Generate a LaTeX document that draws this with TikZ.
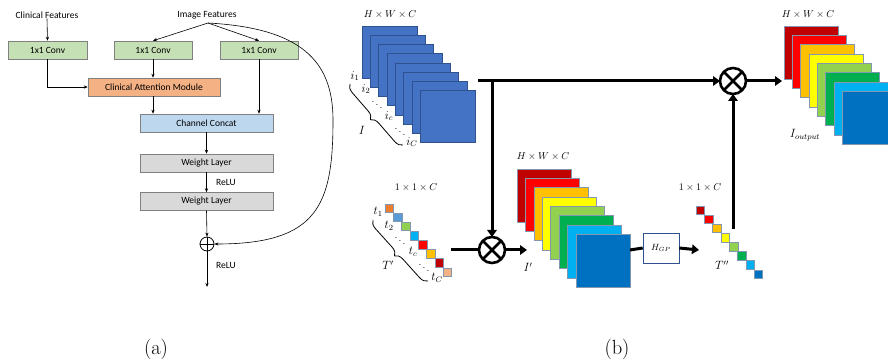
\documentclass[tikz,border=0pt]{standalone}
\usepackage{fontspec}
\newfontfamily\carl{Carlito}
\usetikzlibrary{arrows.meta,decorations.pathreplacing,calc}
\definecolor{gbox}{HTML}{C5E0B4}
\definecolor{obox}{HTML}{F4B183}
\definecolor{bbox}{HTML}{BDD7EE}
\definecolor{wbox}{HTML}{D9D9D9}
\definecolor{sqblue}{HTML}{4472C4}
\definecolor{sqblueb}{HTML}{2F528F}
\definecolor{kA}{HTML}{C00000}
\definecolor{kB}{HTML}{FF0000}
\definecolor{kC}{HTML}{FFC000}
\definecolor{kD}{HTML}{FFFF00}
\definecolor{kE}{HTML}{92D050}
\definecolor{kF}{HTML}{00B050}
\definecolor{kG}{HTML}{00B0F0}
\definecolor{kH}{HTML}{0070C0}
\definecolor{tA}{HTML}{ED7D31}
\definecolor{tB}{HTML}{5B9BD5}
\definecolor{tC}{HTML}{92D050}
\definecolor{tD}{HTML}{00B0F0}
\definecolor{tE}{HTML}{FF0000}
\definecolor{tF}{HTML}{FFC000}
\definecolor{tG}{HTML}{C00000}
\definecolor{tH}{HTML}{F4B183}
\definecolor{sqedge}{HTML}{8497B0}
\begin{document}
\begin{tikzpicture}[x=1pt,y=-1pt,
  lbl/.style={font=\carl\fontsize{9.5}{11}\selectfont, inner sep=0pt},
  box/.style={draw=black!50, line width=0.5pt, inner sep=0pt, minimum height=18pt, font=\carl\fontsize{9.5}{11}\selectfont},
  thinarr/.style={line width=0.6pt, -{Stealth[length=4pt,width=3.2pt]}},
  thickln/.style={line width=3pt},
  thickarr/.style={line width=3pt, -{Triangle[length=7pt,width=9.5pt]}},
  otimes/.style={circle, draw, line width=2.6pt, minimum size=26pt, inner sep=0pt, outer sep=0pt},
  mlbl/.style={inner sep=0pt, font=\fontsize{10}{12}\selectfont},
  ilbl/.style={inner sep=0pt, font=\fontsize{12}{14}\selectfont},
  caplbl/.style={inner sep=0pt, font=\fontsize{20.5}{24}\selectfont}
]
\useasboundingbox (0,0) rectangle (888,363);

% ---------- (a) ----------
\node[lbl] (cf) at (47,15) {Clinical Features};
\node[lbl] (imf) at (207,15) {Image Features};
\coordinate (ifs) at (208,23);
\node[box, fill=gbox, minimum width=79pt] (c1) at (47.5,50) {1x1 Conv};
\node[box, fill=gbox, minimum width=78pt] (c2) at (153,50) {1x1 Conv};
\node[box, fill=gbox, minimum width=78pt] (c3) at (259,50) {1x1 Conv};
\node[box, fill=obox, minimum width=132pt] (cam) at (154,87) {Clinical Attention Module};
\node[box, fill=bbox, minimum width=133pt] (cc) at (206.5,123) {Channel Concat};
\node[box, fill=wbox, minimum width=133pt] (wl1) at (206.5,163) {Weight Layer};
\node[box, fill=wbox, minimum width=133pt] (wl2) at (206.5,201.5) {Weight Layer};
\node[circle, draw, line width=0.8pt, minimum size=14pt, inner sep=0pt] (plus) at (207,244) {};
\draw[line width=0.8pt] (plus.north) -- (plus.south) (plus.west) -- (plus.east);
\node[lbl, anchor=west] (relu1) at (216,182) {ReLU};
\node[lbl, anchor=west] (relu2) at (216,265) {ReLU};
\coordinate (aout) at (207,287);

\draw[thinarr] (cf.south) -- (c1.north);
\draw[thinarr] (ifs) -- (c2.north);
\draw[thinarr] (ifs) -- (c3.north);
\draw[thinarr] (c1.south) |- (cam.west);
\draw[thinarr] (c2.south) -- (c2.south |- cam.north);
\draw[thinarr] ([xshift=-1pt]cam.south) -- ([xshift=-1pt]cam.south |- cc.north);
\draw[thinarr] (c3.south) -- (c3.south |- cc.north);
\draw[thinarr] (cc.south) -- (wl1.north);
\draw[thinarr] (wl1.south) -- (wl2.north);
\draw[thinarr] (wl2.south) -- (plus.north);
\draw[thinarr] (plus.south) -- (aout);
\draw[thinarr] (ifs) .. controls (300,28) and (333,60) .. (333,120)
   .. controls (333,205) and (318,244) .. (plus.east);

\node[caplbl] (capa) at (156,349) {(a)};

% ---------- (b) ----------
% blue stack I
\node[mlbl] (hwc1) at (390,15) {$H\times W\times C$};
\foreach \i in {0,...,7} {
  \filldraw[fill=sqblue, draw=sqblueb, line width=0.4pt]
    ({362+8.3*\i},{26+9.2*\i}) rectangle ++(55,52);
}
\node[ilbl] (i1) at (355,76) {$i_1$};
\node[ilbl] (i2) at (366,89) {$i_2$};
\node[mlbl] (id1) at (377,102) {$\ddots$};
\node[ilbl] (ic) at (389,116) {$i_c$};
\node[mlbl] (id2) at (400,129) {$\ddots$};
\node[ilbl] (iC) at (412,142) {$i_C$};
\coordinate (bIa) at (350,84);
\coordinate (bIb) at (403,145);
\draw[line width=0.8pt, decorate, decoration={brace, mirror, amplitude=8pt}] (bIa) -- (bIb);
\node[ilbl] (Ilbl) at (362,130) {$I$};

% t stack T'
\node[mlbl] (t111) at (416,188) {$1\times 1\times C$};
\foreach \c [count=\i from 0] in {tA,tB,tC,tD,tE,tF,tG,tH} {
  \filldraw[fill=\c, draw=sqedge, line width=0.4pt]
    ({385+8.3*\i},{204+9.1*\i}) rectangle ++(8.5,8.5);
}
\node[ilbl] (t1) at (378,212) {$t_1$};
\node[ilbl] (t2) at (389,226) {$t_2$};
\node[mlbl] (td1) at (400,238) {$\ddots$};
\node[ilbl] (tc) at (413,252) {$t_c$};
\node[mlbl] (td2) at (424,265) {$\ddots$};
\node[ilbl] (tC) at (437,278) {$t_C$};
\coordinate (bTa) at (373,220);
\coordinate (bTb) at (428,281);
\draw[line width=0.8pt, decorate, decoration={brace, mirror, amplitude=8pt}] (bTa) -- (bTb);
\node[ilbl] (Tlbl) at (388,265) {$T'$};

% rainbow stack I'
\node[mlbl] (hwc2) at (543,157) {$H\times W\times C$};
\foreach \c [count=\i from 0] in {kA,kB,kC,kD,kE,kF,kG,kH} {
  \filldraw[fill=\c, draw=sqedge, line width=0.4pt]
    ({517+8.4*\i},{169+9.3*\i}) rectangle ++(54,53);
}
\node[ilbl] (Iplbl) at (528,267) {$I'$};

% T''
\node[mlbl] (t112) at (700,188) {$1\times 1\times C$};
\foreach \c [count=\i from 0] in {kA,kB,kC,kD,kE,kF,kG,kH} {
  \filldraw[fill=\c, draw=sqedge, line width=0.4pt]
    ({696+8.3*\i},{206+9.1*\i}) rectangle ++(8.5,8.5);
}
\node[ilbl] (Tpplbl) at (722,265) {$T''$};

% output stack
\node[mlbl] (hwc3) at (808,15) {$H\times W\times C$};
\foreach \c [count=\i from 0] in {kA,kB,kC,kD,kE,kF,kG,kH} {
  \filldraw[fill=\c, draw=sqedge, line width=0.4pt]
    ({784+8.3*\i},{26+9.3*\i}) rectangle ++(54,53);
}
\node[ilbl] (Iout) at (805,135) {$I_{output}$};

% operators
\node[otimes] (o1) at (733,81) {};
\draw[line width=2.6pt] (o1.north west) -- (o1.south east) (o1.north east) -- (o1.south west);
\node[otimes] (o2) at (492,250) {};
\draw[line width=2.6pt] (o2.north west) -- (o2.south east) (o2.north east) -- (o2.south west);
\node[draw=sqblueb, fill=white, line width=0.6pt, minimum width=36pt, minimum height=30pt, inner sep=0pt, font=\fontsize{9}{10}\selectfont] (hgp) at (661,248) {$H_{GP}$};

% thick connectors
\coordinate (hstart) at (478,81);
\coordinate (vjoin) at (492,81);
\coordinate (tend) at (451,250);
\coordinate (ipin) at (527,250);
\coordinate (rbout) at (630,250);
\coordinate (tppin) at (699,250);
\coordinate (tpptop) at (733,229);
\coordinate (outin) at (782,81);
\draw[thickarr] (hstart) -- (o1.west);
\draw[thickarr] (vjoin) -- (o2.north);
\draw[thickln] (tend) -- (o2.west);
\draw[thickarr] (o2.east) -- (ipin);
\draw[thickln] (rbout) -- (hgp.west);
\draw[thickarr] (hgp.east) -- (tppin);
\draw[thickarr] (tpptop) -- (o1.south);
\draw[thickarr] (o1.east) -- (outin);

\node[caplbl] (capb) at (617,349) {(b)};
\end{tikzpicture}
\end{document}
